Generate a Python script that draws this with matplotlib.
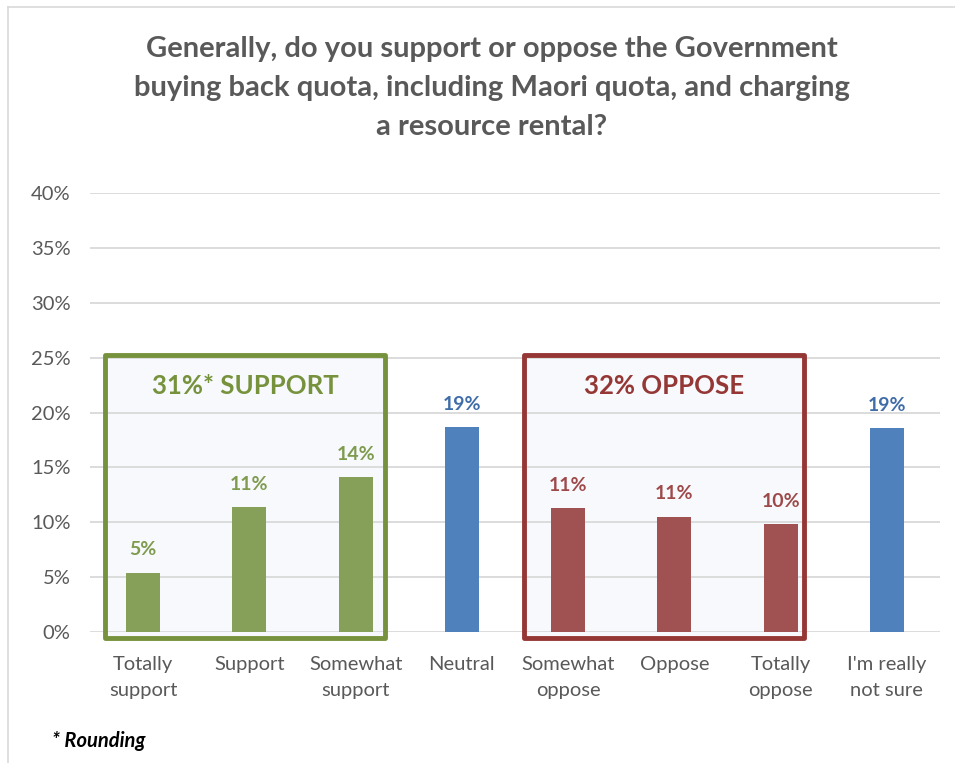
import matplotlib.pyplot as plt
from matplotlib.patches import Rectangle
from matplotlib.lines import Line2D
from matplotlib.ticker import PercentFormatter

categories = ["Totally\nsupport", "Support", "Somewhat\nsupport", "Neutral",
              "Somewhat\noppose", "Oppose", "Totally\noppose", "I'm really\nnot sure"]
values = [5.4, 11.4, 14.1, 18.7, 11.3, 10.5, 9.8, 18.6]
value_labels = ["5%", "11%", "14%", "19%", "11%", "11%", "10%", "19%"]
groups = ["support", "support", "support", "neutral",
          "oppose", "oppose", "oppose", "neutral"]
support_total = "31%* SUPPORT"
oppose_total = "32% OPPOSE"

bar_colors = {"support": "#86A05A", "oppose": "#A05252", "neutral": "#4F81BD"}
label_colors = {"support": "#7F9B4E", "oppose": "#9E4A4A", "neutral": "#3F6DA8"}
GREEN_EDGE = "#76923C"
RED_EDGE = "#953735"
TEXT = "#595959"

plt.rcParams["font.family"] = ["Lato", "DejaVu Sans"]

fig = plt.figure(figsize=(9.55, 7.63), dpi=100)
ax = fig.add_axes([90 / 955, 1 - 632 / 763, 850 / 955, 439 / 763])

x = list(range(len(categories)))
ax.bar(x, values, width=0.32, color=[bar_colors[g] for g in groups], zorder=3)

for xi, v, lab, g in zip(x, values, value_labels, groups):
    ax.text(xi, v + 1.3, lab, ha="center", va="bottom", fontsize=14,
            fontweight="bold", color=label_colors[g], zorder=5)

ax.set_xlim(-0.5, len(categories) - 0.5)
ax.set_ylim(0, 40)
ax.set_yticks(range(0, 41, 5))
ax.yaxis.set_major_formatter(PercentFormatter(decimals=0))
ax.set_xticks(x)
ax.set_xticklabels(categories, fontsize=14.5, color=TEXT, linespacing=1.7)
ax.tick_params(axis="y", labelsize=14.5, labelcolor=TEXT, length=0, pad=14)
ax.tick_params(axis="x", length=0, pad=17)
ax.grid(axis="y", color="#D9D9D9", linewidth=1.3, zorder=1)
ax.set_axisbelow(False)
for s in ax.spines.values():
    s.set_visible(False)

# Group boxes: pale fill behind the gridlines, coloured frame on top
for (x0, x1, edge, label) in [(-0.36, 2.28, GREEN_EDGE, support_total),
                               (3.58, 6.22, RED_EDGE, oppose_total)]:
    ax.add_patch(Rectangle((x0, -0.55), x1 - x0, 25.75, facecolor="#F7F9FC",
                           edgecolor="none", zorder=0.5, clip_on=False))
    ax.add_patch(Rectangle((x0, -0.55), x1 - x0, 25.75, facecolor="none",
                           edgecolor=edge, linewidth=3.5, zorder=4, clip_on=False,
                           joinstyle="round"))
    ax.text((x0 + x1) / 2, 22.4, label, ha="center", va="center", fontsize=18.5,
            fontweight="bold", color=edge, zorder=5)

fig.text(0.515, 1 - 88 / 763,
         "Generally, do you support or oppose the Government\n"
         "buying back quota, including Maori quota, and charging\n"
         "a resource rental?",
         ha="center", va="center", fontsize=21, fontweight="bold",
         color=TEXT, linespacing=1.6)

fig.text(52 / 955, 1 - 741 / 763, "* Rounding", ha="left", va="center",
         fontsize=14.5, fontweight="bold", fontstyle="italic", color="black")

# Chart frame lines (top and left)
fig.add_artist(Line2D([8 / 955, 1], [1 - 7 / 763, 1 - 7 / 763],
                      color="#D9D9D9", linewidth=1.2))
fig.add_artist(Line2D([8 / 955, 8 / 955], [0, 1 - 7 / 763],
                      color="#D9D9D9", linewidth=1.2))

fig.savefig("out.png", dpi=100, facecolor="white")
